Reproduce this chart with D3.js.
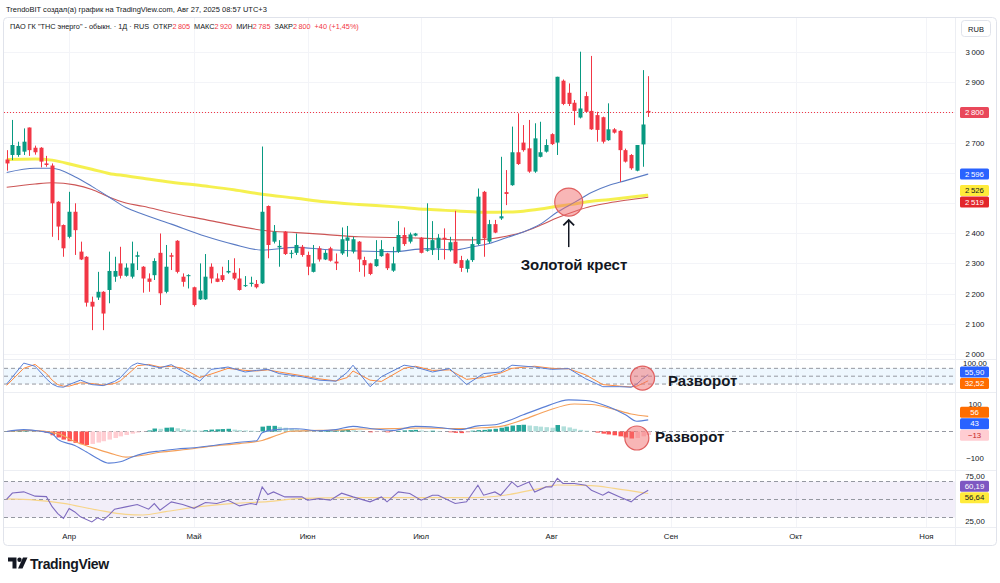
<!DOCTYPE html>
<html>
<head>
<meta charset="utf-8">
<script src="https://cdn.jsdelivr.net/npm/d3@7"></script>
<style>
  body { margin: 0; background: #fff; }
  svg { display: block; font-family: "Liberation Sans", Arial, sans-serif; }
</style>
</head>
<body>
<svg id="chart" width="1000" height="583"></svg>
<script>
// ---- данные ----
const opens = [
  2644,2659,2659,2670,2750,2683,2683,2631,2624,2504,
  2427,2388,2471,2339,2322,2173,2187,2206,2212,2256,
  2300,2259,2256,2322,2289,2250,2261,2335,2206,2327,
  2375,2256,2258,2221,2181,2181,2289,2250,2261,2270,
  2269,2250,2225,2232,2232,2234,2490,2372,2353,2405,
  2333,2335,2355,2328,2272,2350,2313,2350,2306,2333,
  2375,2339,2372,2311,2300,2291,2324,2333,2276,2339,
  2394,2372,2392,2385,2342,2344,2350,2385,2344,2372,
  2311,2282,2311,2364,2537,2372,2430,2449,2536,2559,
  2668,2700,2681,2604,2653,2670,2728,2700,2905,2865,
  2832,2783,2854,2805,2791,2784,2708,2744,2739,2675,
  2659,2607,2694,2805];
const highs = [
  2675,2775,2703,2747,2750,2690,2685,2656,2631,2506,
  2429,2537,2499,2372,2324,2190,2272,2208,2339,2322,
  2355,2300,2372,2339,2291,2267,2317,2399,2361,2335,
  2377,2267,2264,2223,2300,2331,2300,2267,2289,2311,
  2317,2284,2258,2256,2245,2687,2492,2427,2377,2407,
  2344,2399,2361,2339,2361,2357,2344,2355,2333,2419,
  2424,2388,2374,2322,2302,2377,2377,2335,2355,2440,
  2419,2402,2401,2387,2499,2440,2397,2416,2388,2474,
  2325,2315,2388,2548,2540,2444,2444,2653,2609,2753,
  2797,2758,2775,2764,2769,2711,2731,2918,2909,2896,
  2841,3001,2868,2987,2802,2786,2830,2748,2741,2680,
  2662,2692,2940,2920];
const lows = [
  2607,2642,2653,2659,2656,2660,2618,2620,2388,2377,
  2322,2383,2328,2311,2157,2079,2179,2079,2168,2239,
  2250,2256,2250,2278,2203,2206,2245,2162,2201,2278,
  2267,2223,2217,2157,2179,2179,2234,2238,2239,2266,
  2245,2210,2222,2223,2217,2232,2317,2366,2289,2328,
  2317,2328,2322,2261,2270,2306,2311,2306,2278,2328,
  2322,2333,2272,2256,2261,2289,2322,2278,2272,2335,
  2358,2366,2390,2333,2339,2328,2311,2313,2339,2298,
  2272,2270,2305,2360,2322,2366,2400,2444,2493,2557,
  2626,2670,2600,2600,2651,2667,2692,2659,2824,2821,
  2758,2780,2799,2742,2703,2697,2706,2730,2570,2634,
  2610,2605,2620,2785];
const closes = [
  2631,2692,2689,2703,2675,2668,2637,2626,2499,2422,
  2350,2471,2410,2313,2170,2157,2206,2134,2275,2275,
  2259,2286,2300,2327,2250,2239,2308,2201,2289,2322,
  2272,2239,2261,2162,2210,2256,2250,2239,2245,2275,
  2250,2212,2228,2236,2221,2471,2361,2405,2358,2331,
  2335,2361,2328,2289,2300,2313,2335,2309,2300,2380,
  2386,2380,2313,2294,2265,2314,2347,2284,2300,2394,
  2364,2396,2399,2335,2346,2377,2385,2380,2370,2300,
  2285,2310,2364,2521,2383,2430,2402,2456,2530,2668,
  2629,2675,2604,2714,2668,2692,2695,2918,2828,2828,
  2805,2813,2802,2744,2742,2703,2744,2733,2675,2637,
  2615,2692,2760,2800];

// скользящие средние (точки)
const maIdx    = [0,5,8,12,15,18,21,24,29,35,40,45,51,56,62,68,74,79,82,85,88,91,94,97,100,103,106,109,113];
const maYellow = [2644,2646,2642,2625,2612,2598,2590,2582,2569,2556,2544,2529,2516,2504,2495,2488,2479,2474,2471,2469,2470,2473,2480,2489,2497,2506,2511,2517,2526];
const maBlue   = [2601,2615,2615,2587,2555,2520,2485,2463,2430,2390,2363,2344,2353,2346,2341,2339,2349,2345,2355,2366,2385,2404,2430,2470,2502,2535,2558,2574,2596];
const maRed    = [2552,2563,2567,2560,2545,2520,2500,2489,2467,2445,2426,2410,2402,2396,2388,2386,2383,2378,2378,2381,2390,2404,2426,2451,2472,2489,2500,2509,2519];

// стохастик
const stochIdx = [0,3,5,7,8,9,10,11,13,15,17,19,20,22,23,25,27,29,31,34,36,39,42,44,46,48,52,55,58,60,61,64,66,70,72,75,78,81,84,87,89,93,96,99,102,105,108,110,111,112,113];
const stochK   = [20,100,88,40,20,10,8,18,35,18,14,30,44,90,100,92,82,94,68,31,76,85,66,72,76,60,48,35,31,65,92,10,48,92,85,66,79,18,60,66,92,85,76,79,40,10,10,8,20,40,55.90];
const stochD   = [15,80,95,60,35,18,12,12,25,22,16,22,32,70,90,95,85,88,80,45,58,80,72,70,74,66,52,40,32,45,70,35,30,80,88,72,74,38,45,62,80,88,80,78,55,18,12,9,12,22,32.52];

// MACD
const macdIdx  = [0,3,6,8,9,12,14,16,18,20,22,24,27,30,33,37,41,44,45,47,51,55,58,61,64,68,72,76,80,83,86,88,91,95,99,102,106,109,111,113];
const macdLine = [0,7,1,-8,-29,-52,-75,-100,-117,-112,-95,-82,-72,-65,-60,-50,-40,-34,-5,6,10,3,7,19,11,4,19,15,7,21,25,37,62,93,117,115,92,62,38,43];
const sigIdx   = [0,4,9,12,16,19,21,24,27,32,36,41,45,48,50,55,60,62,68,73,79,83,87,91,95,100,103,107,110,113];
const sigLine  = [0,4,-8,-37,-66,-85,-95,-88,-77,-66,-54,-45,-33,-11,1,4,7,9,11,13,11,13,19,44,75,102,100,82,65,56];
const macdHist = [
  1,2,3,3,2,1,-1,-5,-14,-22,
  -30,-36,-42,-47,-50,-46,-41,-36,-30,-24,
  -18,-13,-8,-4,-1,4,11,10,14,15,
  12,9,6,4,3,5,7,8,9,10,
  7,5,4,3,2,18,21,21,17,14,
  11,8,5,2,1,1,2,3,4,5,
  6,5,3,0,-3,-2,-1,-3,-2,2,
  4,5,6,4,2,3,2,0,-3,-5,
  -6,-4,3,5,6,8,10,14,18,22,
  24,25,22,20,18,16,14,24,19,15,
  10,6,3,0,-4,-8,-11,-14,-18,-22,
  -26,-24,-18,-13];

// RSI
const rsiIdx  = [0,1,3,5,7,8,9,10,11,12,13,15,16,17,18,19,21,23,25,26,27,29,31,33,35,37,39,41,43,44,45,46,47,49,52,53,55,57,59,61,64,66,67,69,71,73,75,76,79,81,83,84,86,87,89,90,92,93,95,96,97,98,100,102,103,105,106,108,110,111,113];
const rsiVals = [50.3,57.2,58.5,53.7,53.2,42,34.4,28.9,40,36.2,30.7,25.1,29.6,27,32.6,39.2,41.8,44.4,39.2,45.5,38.1,47.4,44.4,40.2,46.6,45.5,49.2,42.9,45.5,44.4,64,55.5,58.4,52.9,52.9,49.2,51,49.2,57,52.9,47.4,52.9,47.4,58.4,56.6,49.2,54.8,54.8,45.5,47.4,65.9,54.8,58.4,54.8,69.5,64,69.5,58.4,64,64,73.4,67.8,67.8,65.9,60.3,54.8,58.4,52.9,47.4,52.9,60.19];
const rsiMaIdx  = [0,5,10,16,21,24,28,34,40,46,52,60,70,82,88,94,97,103,107,113];
const rsiMaVals = [50.6,49.4,45.7,38.3,33.5,32.8,36.5,42,45.7,47.6,51.3,52,52,52,55,62.4,66.1,65.4,62.4,56.64];

// оси
const priceTicks  = [2000,2100,2200,2300,2400,2500,2600,2700,2800,2900,3000];
const monthLabels = ['Апр','Май','Июн','Июл','Авг','Сен','Окт','Ноя'];
const monthIdx    = [11,33,53,73,96,117,139,162];

// ---- рисование ----
const svg = d3.select('#chart');
const plotL = 4, plotR = 955;
const UP = '#089981', DOWN = '#f23645';
const loc = d3.formatLocale({decimal: ',', thousands: '\u202f', grouping: [3], currency: ['', '']});
const fmtPrice = loc.format(',');
const fmt2 = loc.format('.2f');

const x = d3.scaleLinear().domain([0, 113]).range([6.7, 648.2]);
const yPrice = d3.scaleLinear().domain([2000, 3000]).range([354, 52]);
const yStoch = d3.scaleLinear().domain([0, 100]).range([389.3, 363.1]);
const yMacd  = d3.scaleLinear().domain([-100, 100]).range([458.5, 404.5]);
const yRsi   = d3.scaleLinear().domain([25, 75]).range([522, 477]);

svg.append('defs').append('clipPath').attr('id', 'plot')
  .append('rect').attr('x', plotL).attr('y', 18).attr('width', plotR - plotL).attr('height', 510);

// рамка и разделители
svg.append('rect').attr('x', 3.5).attr('y', 17.5).attr('width', 993).attr('height', 528)
  .attr('rx', 4).attr('fill', 'none').attr('stroke', '#e0e3eb');
[359.5, 392.5, 470.5, 527.5].forEach(yy => {
  svg.append('line').attr('x1', 4).attr('x2', 996).attr('y1', yy).attr('y2', yy)
    .attr('stroke', '#eceef3');
});
svg.append('line').attr('x1', plotR + 0.5).attr('x2', plotR + 0.5).attr('y1', 18).attr('y2', 545)
  .attr('stroke', '#eceef3');

// сетка
const grid = svg.append('g');
grid.selectAll('.hg').data(priceTicks).enter().append('line')
  .attr('x1', plotL).attr('x2', plotR)
  .attr('y1', d => Math.round(yPrice(d)) + 0.5).attr('y2', d => Math.round(yPrice(d)) + 0.5)
  .attr('stroke', '#f3f4f8');
grid.selectAll('.vg').data(monthIdx).enter().append('line')
  .attr('x1', d => Math.round(x(d)) + 0.5).attr('x2', d => Math.round(x(d)) + 0.5)
  .attr('y1', 18).attr('y2', 527)
  .attr('stroke', '#f3f4f8');

// заголовок
svg.append('text').attr('x', 6).attr('y', 12).attr('font-size', 7.5).attr('fill', '#131722')
  .text('TrendoBIT создал(а) график на TradingView.com, Авг 27, 2025 08:57 UTC+3');
const hdr = svg.append('text').attr('x', 10).attr('y', 29).attr('font-size', 7.3).attr('fill', '#131722');
hdr.append('tspan').text('ПАО ГК "ТНС энерго" - обыкн. · 1Д · RUS');
const ohlc = [['ОТКР', opens], ['МАКС', highs], ['МИН', lows], ['ЗАКР', closes]];
ohlc.forEach(([lbl, arr]) => {
  hdr.append('tspan').attr('dx', 4).text(lbl);
  hdr.append('tspan').attr('fill', DOWN).text(fmtPrice(arr[arr.length - 1]));
});
const lastC = closes[closes.length - 1], prevC = closes[closes.length - 2];
hdr.append('tspan').attr('dx', 4).attr('fill', DOWN)
  .text(`+${lastC - prevC} (+${loc.format('.2f')((lastC - prevC) / prevC * 100).replace(/0$/, '')}%)`);

// основная панель
const main = svg.append('g').attr('clip-path', 'url(#plot)');
const bars = d3.range(opens.length).map(i => ({i, o: opens[i], h: highs[i], l: lows[i], c: closes[i]}));

// линия последней цены
main.append('line').attr('x1', plotL).attr('x2', plotR)
  .attr('y1', Math.round(yPrice(lastC)) + 0.5).attr('y2', Math.round(yPrice(lastC)) + 0.5)
  .attr('stroke', DOWN).attr('stroke-dasharray', '1,2');

const maLine = d3.line().x(d => x(d[0])).y(d => yPrice(d[1])).curve(d3.curveMonotoneX);
main.append('path').datum(d3.zip(maIdx, maYellow)).attr('d', maLine)
  .attr('fill', 'none').attr('stroke', '#f4ee3c').attr('stroke-width', 3).attr('opacity', 0.9);
main.append('path').datum(d3.zip(maIdx, maRed)).attr('d', maLine)
  .attr('fill', 'none').attr('stroke', '#cc5555').attr('stroke-width', 1.1);
main.append('path').datum(d3.zip(maIdx, maBlue)).attr('d', maLine)
  .attr('fill', 'none').attr('stroke', '#5a7bc4').attr('stroke-width', 1.1);

const cg = main.selectAll('.candle').data(bars).enter().append('g');
cg.append('line')
  .attr('x1', d => Math.round(x(d.i)) + 0.5).attr('x2', d => Math.round(x(d.i)) + 0.5)
  .attr('y1', d => yPrice(d.h)).attr('y2', d => yPrice(d.l))
  .attr('stroke', d => d.c >= d.o ? UP : DOWN);
cg.append('rect')
  .attr('x', d => Math.round(x(d.i)) - 1.5).attr('width', 4)
  .attr('y', d => yPrice(Math.max(d.o, d.c)))
  .attr('height', d => Math.max(1, Math.abs(yPrice(d.o) - yPrice(d.c))))
  .attr('fill', d => d.c >= d.o ? UP : DOWN);

// стохастик
const lower = svg.append('g').attr('clip-path', 'url(#plot)');
lower.append('rect').attr('x', plotL).attr('width', plotR - plotL)
  .attr('y', yStoch(80)).attr('height', yStoch(20) - yStoch(80)).attr('fill', 'rgba(33,150,243,0.08)');
[80, 50, 20].forEach(v => lower.append('line').attr('x1', plotL).attr('x2', plotR)
  .attr('y1', yStoch(v)).attr('y2', yStoch(v)).attr('stroke', '#9598a1').attr('stroke-dasharray', '4,3'));
const stLine = d3.line().x(d => x(d[0])).y(d => yStoch(d[1]));
lower.append('path').datum(d3.zip(stochIdx, stochD)).attr('d', stLine)
  .attr('fill', 'none').attr('stroke', '#ff8a3d').attr('stroke-width', 1);
lower.append('path').datum(d3.zip(stochIdx, stochK)).attr('d', stLine)
  .attr('fill', 'none').attr('stroke', '#5a7fd6').attr('stroke-width', 1);

// MACD
lower.append('line').attr('x1', plotL).attr('x2', 1000).attr('y1', yMacd(0)).attr('y2', yMacd(0))
  .attr('stroke', '#9598a1').attr('stroke-dasharray', '4,3');
lower.selectAll('.hist').data(macdHist).enter().append('rect')
  .attr('x', (d, i) => Math.round(x(i)) - 1.5).attr('width', 4.5)
  .attr('y', d => Math.min(yMacd(d), yMacd(0)))
  .attr('height', d => Math.abs(yMacd(d) - yMacd(0)))
  .attr('fill', (d, i) => {
    const p = i > 0 ? macdHist[i - 1] : 0;
    if (d >= 0) return d >= p ? '#26a69a' : '#b2dfdb';
    return d <= p ? '#ff5252' : '#ffcdd2';
  });
const mLine = d3.line().x(d => x(d[0])).y(d => yMacd(d[1])).curve(d3.curveMonotoneX);
lower.append('path').datum(d3.zip(sigIdx, sigLine)).attr('d', mLine)
  .attr('fill', 'none').attr('stroke', '#f5a05a').attr('stroke-width', 1.1);
lower.append('path').datum(d3.zip(macdIdx, macdLine)).attr('d', mLine)
  .attr('fill', 'none').attr('stroke', '#5a7fd6').attr('stroke-width', 1.1);

// RSI
lower.append('rect').attr('x', plotL).attr('width', plotR - plotL)
  .attr('y', yRsi(70)).attr('height', yRsi(30) - yRsi(70)).attr('fill', 'rgba(126,87,194,0.1)');
[70, 50, 30].forEach(v => lower.append('line').attr('x1', plotL).attr('x2', plotR)
  .attr('y1', yRsi(v)).attr('y2', yRsi(v)).attr('stroke', '#9598a1').attr('stroke-dasharray', '4,3'));
lower.append('path').datum(d3.zip(rsiMaIdx, rsiMaVals))
  .attr('d', d3.line().x(d => x(d[0])).y(d => yRsi(d[1])).curve(d3.curveMonotoneX))
  .attr('fill', 'none').attr('stroke', '#f7d58a').attr('stroke-width', 1.2);
lower.append('path').datum(d3.zip(rsiIdx, rsiVals)).attr('d', d3.line().x(d => x(d[0])).y(d => yRsi(d[1])))
  .attr('fill', 'none').attr('stroke', '#7e6bbf').attr('stroke-width', 1.1);

// аннотации
const ann = svg.append('g');
const gc = {i: 99, p: 2503};
ann.append('circle').attr('cx', x(gc.i)).attr('cy', yPrice(gc.p)).attr('r', 14)
  .attr('fill', 'rgba(242,110,110,0.5)').attr('stroke', '#e06060').attr('stroke-width', 1.2);
ann.append('defs').append('marker').attr('id', 'arr').attr('viewBox', '0 0 10 10')
  .attr('refX', 5).attr('refY', 5).attr('markerWidth', 9).attr('markerHeight', 9).attr('orient', 'auto')
  .append('path').attr('d', 'M1,1 L5,5 L1,9').attr('fill', 'none').attr('stroke', '#131722').attr('stroke-width', 1.3);
ann.append('line').attr('x1', x(gc.i)).attr('x2', x(gc.i))
  .attr('y1', yPrice(gc.p) + 45).attr('y2', yPrice(gc.p) + 18)
  .attr('stroke', '#131722').attr('stroke-width', 1.5).attr('marker-end', 'url(#arr)');
ann.append('text').attr('x', x(gc.i) - 48).attr('y', yPrice(gc.p) + 68)
  .attr('font-size', 15).attr('font-weight', 'bold').attr('fill', '#131722').text('Золотой крест');

const rev = [{i: 112, y: yStoch(43), tx: 668, ty: 386}, {i: 111, y: yMacd(-24), tx: 655, ty: 442}];
rev.forEach(r => {
  ann.append('circle').attr('cx', x(r.i)).attr('cy', r.y).attr('r', 12)
    .attr('fill', 'rgba(242,110,110,0.5)').attr('stroke', '#e06060').attr('stroke-width', 1.2);
  ann.append('text').attr('x', r.tx).attr('y', r.ty).attr('font-size', 15).attr('font-weight', 'bold')
    .attr('fill', '#131722').text('Разворот');
});

// правая шкала
function spread(labels, h) {
  labels.sort((a, b) => a.y - b.y);
  for (let k = 0; k < 6; k++) {
    for (let i = 1; i < labels.length; i++) {
      const d = labels[i].y - labels[i - 1].y;
      if (d < h) { const s = (h - d) / 2; labels[i - 1].y -= s; labels[i].y += s; }
    }
  }
  return labels;
}
const valueLabels = [
  spread([
    {y: yPrice(lastC), text: fmtPrice(lastC), bg: '#e9485a', fg: '#fff'},
    {y: yPrice(maBlue[maBlue.length - 1]), text: fmtPrice(maBlue[maBlue.length - 1]), bg: '#2962ff', fg: '#fff'},
    {y: yPrice(maYellow[maYellow.length - 1]), text: fmtPrice(maYellow[maYellow.length - 1]), bg: '#ffeb3b', fg: '#131722'},
    {y: yPrice(maRed[maRed.length - 1]), text: fmtPrice(maRed[maRed.length - 1]), bg: '#e3262a', fg: '#fff'}
  ], 11.5),
  spread([
    {y: yStoch(stochK[stochK.length - 1]), text: fmt2(stochK[stochK.length - 1]), bg: '#2962ff', fg: '#fff'},
    {y: yStoch(stochD[stochD.length - 1]), text: fmt2(stochD[stochD.length - 1]), bg: '#ff6d00', fg: '#fff'}
  ], 11.5),
  spread([
    {y: yMacd(sigLine[sigLine.length - 1]), text: String(sigLine[sigLine.length - 1]), bg: '#ff6d00', fg: '#fff'},
    {y: yMacd(macdLine[macdLine.length - 1]), text: String(macdLine[macdLine.length - 1]), bg: '#2962ff', fg: '#fff'},
    {y: yMacd(macdHist[macdHist.length - 1]), text: '−' + Math.abs(macdHist[macdHist.length - 1]), bg: '#ffcdd2', fg: '#c62828'}
  ], 11.5),
  spread([
    {y: yRsi(rsiVals[rsiVals.length - 1]), text: fmt2(rsiVals[rsiVals.length - 1]), bg: '#7e57c2', fg: '#fff'},
    {y: yRsi(rsiMaVals[rsiMaVals.length - 1]), text: fmt2(rsiMaVals[rsiMaVals.length - 1]), bg: '#ffeb3b', fg: '#131722'}
  ], 11.5)
].flat();

const axisG = svg.append('g').attr('font-size', 7.8).attr('fill', '#131722').attr('text-anchor', 'middle');
const shownTicks = priceTicks.filter(t => valueLabels.every(l => Math.abs(l.y - yPrice(t)) > 9));
axisG.call(g => {
  const ax = d3.axisRight(yPrice).tickValues(shownTicks).tickSize(0).tickPadding(0).tickFormat(fmtPrice);
  const a = g.append('g').attr('transform', 'translate(975,0)').call(ax);
  a.select('.domain').remove();
  a.selectAll('text').attr('text-anchor', 'middle').attr('fill', '#131722').attr('font-size', 7.8)
    .attr('font-family', '"Liberation Sans", Arial, sans-serif');
});
const extraTicks = [
  {y: yStoch(100), t: fmt2(100)},
  {y: yMacd(100), t: '100'},
  {y: yMacd(-100), t: '−100'},
  {y: yRsi(75), t: fmt2(75)},
  {y: yRsi(25), t: fmt2(25)}
];
axisG.selectAll('.et').data(extraTicks).enter().append('text')
  .attr('x', 975).attr('y', d => d.y).attr('dy', '0.32em').text(d => d.t);

// бокс RUB
svg.append('rect').attr('x', 961.5).attr('y', 20.5).attr('width', 29).attr('height', 16).attr('rx', 3)
  .attr('fill', '#fff').attr('stroke', '#e0e3eb');
svg.append('text').attr('x', 976).attr('y', 31.5).attr('text-anchor', 'middle')
  .attr('font-size', 7.5).attr('fill', '#131722').text('RUB');

const vl = svg.append('g').selectAll('g').data(valueLabels).enter().append('g');
vl.append('rect').attr('x', 960).attr('y', d => d.y - 5.5).attr('width', 29).attr('height', 11).attr('rx', 1.5)
  .attr('fill', d => d.bg);
vl.append('text').attr('x', 974.5).attr('y', d => d.y).attr('dy', '0.34em').attr('text-anchor', 'middle')
  .attr('font-size', 7.8).attr('fill', d => d.fg).text(d => d.text);

// шкала времени
svg.append('g').selectAll('text').data(monthIdx).enter().append('text')
  .attr('x', d => x(d)).attr('y', 539).attr('text-anchor', 'middle')
  .attr('font-size', 7.8).attr('fill', '#131722').text((d, i) => monthLabels[i]);

// логотип
const logo = svg.append('g').attr('fill', '#131722');
logo.append('path').attr('d', 'M8,557.5 h8.5 v11 h-4 v-7 h-4.5 z');
logo.append('circle').attr('cx', 19.5).attr('cy', 559.8).attr('r', 2.2);
logo.append('path').attr('d', 'M23,557.5 h4.5 l-5,11 h-4.5 z');
logo.append('text').attr('x', 30).attr('y', 568.5).attr('font-size', 14).attr('font-weight', 'bold')
  .attr('letter-spacing', -0.3).text('TradingView');
</script>
</body>
</html>
